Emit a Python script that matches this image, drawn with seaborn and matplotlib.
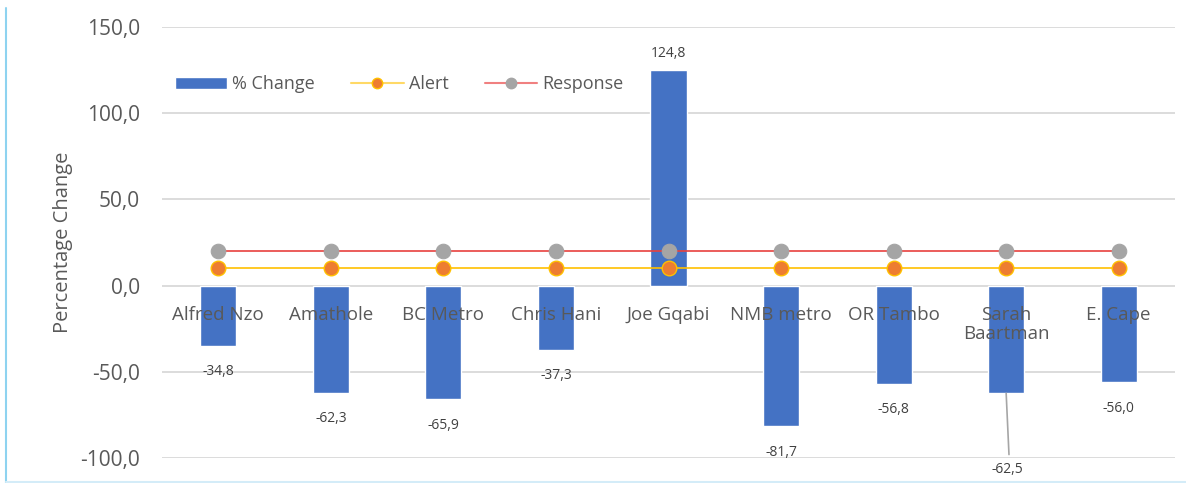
import matplotlib
matplotlib.use("Agg")
import matplotlib.pyplot as plt
import matplotlib.ticker as mticker
from matplotlib.lines import Line2D
from matplotlib.patches import Patch
import seaborn as sns
import pandas as pd

districts = ["Alfred Nzo", "Amathole", "BC Metro", "Chris Hani", "Joe Gqabi",
             "NMB metro", "OR Tambo", "Sarah\nBaartman", "E. Cape"]
pct_change = [-34.8, -62.3, -65.9, -37.3, 124.8, -81.7, -56.8, -62.5, -56.0]
alert = [10] * 9
response = [20] * 9

df = pd.DataFrame({"district": districts, "change": pct_change,
                   "alert": alert, "response": response})

sns.set_theme(style="white")
plt.rcParams["font.family"] = ["Open Sans", "DejaVu Sans"]

fig = plt.figure(figsize=(11.86, 4.83), dpi=100)
ax = fig.add_axes([162 / 1186, 25 / 483, 1013 / 1186, 431 / 483])

sns.barplot(data=df, x="district", y="change", color="#4472C4", width=0.32,
            saturation=1, ax=ax, zorder=2)
sns.lineplot(data=df, x="district", y="response", color="#E8413E", lw=1.2,
             marker="o", markersize=10.5, markerfacecolor="#A5A5A5",
             markeredgecolor="#A5A5A5", sort=False, ax=ax, zorder=3)
sns.lineplot(data=df, x="district", y="alert", color="#FFC000", lw=1.2,
             marker="o", markersize=10.5, markerfacecolor="#ED7D31",
             markeredgecolor="#FFC000", markeredgewidth=1, sort=False, ax=ax, zorder=3)

ax.set_ylim(-100, 150)
ax.set_yticks([-100, -50, 0, 50, 100, 150])
ax.yaxis.set_major_formatter(mticker.FuncFormatter(lambda v, p: f"{v:.1f}".replace(".", ",")))
ax.grid(axis="y", color="#D9D9D9", lw=1.3, zorder=0)
ax.set_axisbelow(True)
for s in ax.spines.values():
    s.set_visible(False)
ax.tick_params(axis="y", length=0, pad=16, labelsize=15, labelcolor="#595959")
ax.set_xticks([])
ax.set_xlabel("")
ax.set_ylabel("Percentage Change", fontsize=14.5, color="#595959", labelpad=5)
ax.set_xlim(-0.5, len(districts) - 0.5)

# category labels sit just under the zero line
for i, name in enumerate(districts):
    ax.text(i, -12, name, ha="center", va="top", fontsize=13.5, color="#595959",
            linespacing=1.05)

# data labels
for i, v in enumerate(pct_change):
    lab = f"{v:.1f}".replace(".", ",")
    if v > 0:
        ax.text(i, v + 10, lab, ha="center", va="center", fontsize=10, color="#404040")
    elif districts[i].startswith("Sarah"):
        ax.plot([i, i + 0.025], [v, -98], color="#A6A6A6", lw=1.2, zorder=4)
        ax.text(i + 0.01, -106.7, lab, ha="center", va="center", fontsize=10,
                color="#404040", clip_on=False)
    else:
        ax.text(i, v - 15, lab, ha="center", va="center", fontsize=10, color="#404040")

if ax.get_legend():
    ax.get_legend().remove()
handles = [
    Patch(facecolor="#4472C4"),
    Line2D([], [], color="#FFD966", lw=1.5, marker="o", markersize=7.5,
           markerfacecolor="#ED7D31", markeredgecolor="#FFC000"),
    Line2D([], [], color="#F08080", lw=1.5, marker="o", markersize=7.5,
           markerfacecolor="#A5A5A5", markeredgecolor="#A5A5A5"),
]
fig.legend(handles, ["% Change", "Alert", "Response"], loc="center left",
           bbox_to_anchor=(175 / 1186, 1 - 84 / 483), ncol=3, frameon=False,
           fontsize=13, labelcolor="#595959", handlelength=2.9, handleheight=0.66,
           handletextpad=0.28, columnspacing=2.0, borderpad=0, borderaxespad=0)

# chart frame edges
fig.add_artist(Line2D([6 / 1186, 6 / 1186], [0, 1 - 8 / 483], color="#8ED3F0", lw=1.5))
fig.add_artist(Line2D([6 / 1186, 1], [1.5 / 483, 1.5 / 483], color="#D4ECF8", lw=1.5))

fig.savefig("out.png", dpi=100)
